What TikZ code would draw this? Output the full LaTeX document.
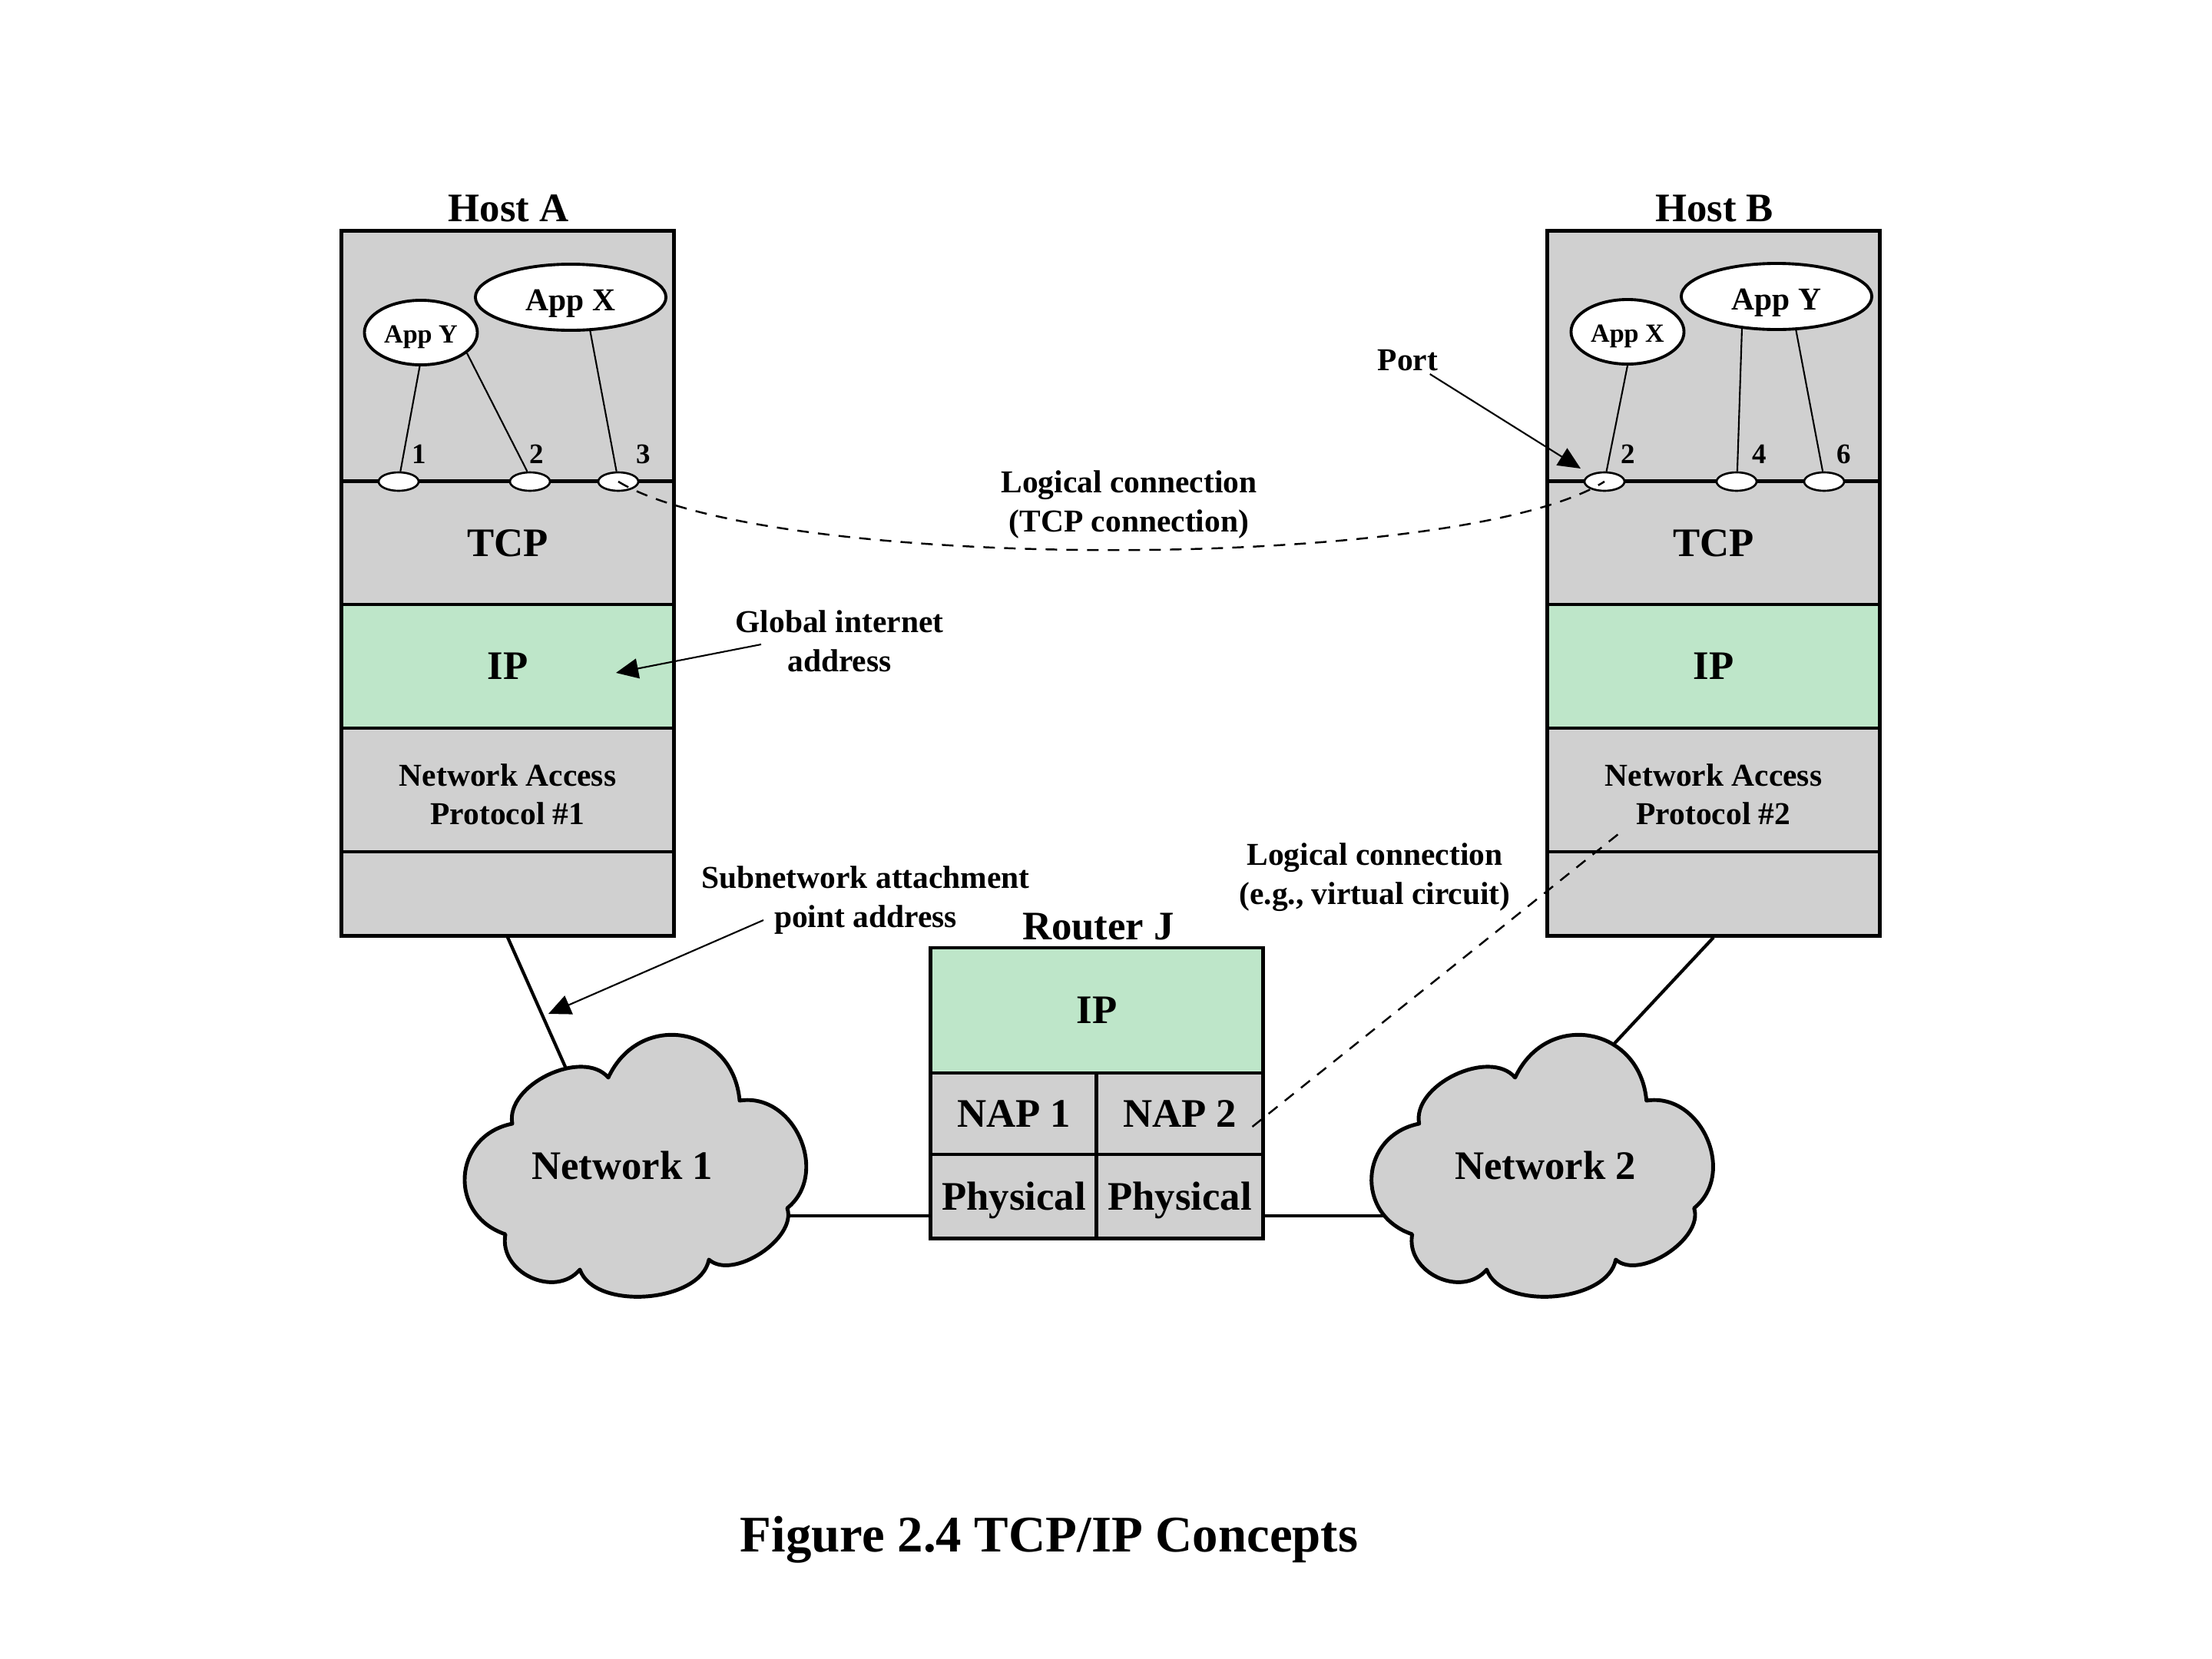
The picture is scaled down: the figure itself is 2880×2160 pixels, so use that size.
\documentclass[tikz,border=0pt]{standalone}
\usepackage{fontspec}
\setmainfont{Liberation Serif}
\usetikzlibrary{shapes.geometric,arrows.meta,calc}
\definecolor{boxgray}{RGB}{208,208,208}
\definecolor{ipgreen}{RGB}{190,230,201}
\tikzset{
 stacklayer/.style={draw, line width=1.4pt, fill=boxgray, minimum width=4.32cm, inner sep=0pt, align=center, text depth=0pt, font=\bfseries\fontsize{15}{18}\selectfont},
 iplayer/.style={stacklayer, fill=ipgreen},
 naptext/.style={font=\bfseries\fontsize{11.8}{14.2}\selectfont, align=center, inner sep=0pt},
 smalltext/.style={font=\bfseries\fontsize{11.8}{14.4}\selectfont, align=center, inner sep=1pt},
 appell/.style={ellipse, draw, line width=1.1pt, fill=white, inner sep=0pt, text depth=0pt},
 bigapp/.style={appell, minimum width=2.48cm, minimum height=0.86cm, text height=1em, font=\bfseries\fontsize{11.8}{14}\selectfont},
 smallapp/.style={appell, minimum width=1.47cm, minimum height=0.84cm, text height=0.78em, font=\bfseries\fontsize{9.7}{12}\selectfont},
 portell/.style={ellipse, draw, line width=0.75pt, fill=white, minimum width=0.52cm, minimum height=0.24cm, inner sep=0pt},
 portnum/.style={font=\bfseries\fontsize{10.5}{12}\selectfont, inner sep=0pt},
 wire/.style={line width=0.6pt},
 annot/.style={line width=0.6pt, -{Triangle[length=0.29cm,width=0.26cm]}},
 logicline/.style={line width=0.7pt, dash pattern=on 0.15cm off 0.12cm},
 netlink/.style={line width=1.2pt},
 cloudst/.style={draw, line width=1.4pt, fill=boxgray, line join=round},
 hosttitle/.style={font=\bfseries\fontsize{15}{18}\selectfont, inner sep=0pt, anchor=base},
 netlabel/.style={font=\bfseries\fontsize{15}{18}\selectfont, inner sep=0pt},
}
\newcommand\cloudpath[1]{%
\coordinate (#1a) at (792,1403);
\coordinate (#1b) at (963,1433);
\coordinate (#1c) at (1025,1573);
\coordinate (#1d) at (923,1640);
\coordinate (#1e) at (755,1653);
\coordinate (#1f) at (658,1607);
\coordinate (#1g) at (667,1463);
\draw[cloudst] (#1a)
 .. controls ($(#1a)!0.56!75:(#1b)$) and ($(#1b)!0.56!-75:(#1a)$) .. (#1b)
 .. controls ($(#1b)!0.47!75:(#1c)$) and ($(#1c)!0.47!-75:(#1b)$) .. (#1c)
 .. controls ($(#1c)!0.34!75:(#1d)$) and ($(#1d)!0.34!-75:(#1c)$) .. (#1d)
 .. controls ($(#1d)!0.34!75:(#1e)$) and ($(#1e)!0.34!-75:(#1d)$) .. (#1e)
 .. controls ($(#1e)!0.47!75:(#1f)$) and ($(#1f)!0.47!-75:(#1e)$) .. (#1f)
 .. controls ($(#1f)!0.55!75:(#1g)$) and ($(#1g)!0.55!-75:(#1f)$) .. (#1g)
 .. controls ($(#1g)!0.37!75:(#1a)$) and ($(#1a)!0.37!-75:(#1g)$) .. (#1a) -- cycle;}
\begin{document}
\begin{tikzpicture}[x=0.01cm, y=-0.01cm]
\fill[white] (0,0) rectangle (2880,2160);
\useasboundingbox (0,0) rectangle (2880,2160);

% ---------- Host A ----------
\node[hosttitle] (hAtitle) at (662,288) {Host A};
\node[stacklayer, minimum height=3.26cm] (hAapp) at (661,464) {};
\node[stacklayer, minimum height=1.60cm] (hAtcp) at (661,707) {TCP};
\node[iplayer, minimum height=1.61cm] (hAip) at (661,867.5) {IP};
\node[stacklayer, minimum height=1.61cm] (hAnap) at (661,1028.5) {};
\node[naptext] (hAnapT) at (661,1034) {Network Access\\Protocol \#1};
\node[stacklayer, minimum height=1.09cm] (hAbot) at (661,1163.5) {};

\node[smallapp] (aYA) at (548,433) {App Y};
\node[bigapp] (aXA) at (743,387) {App X};
\node[portell] (p1A) at (519,627) {};
\node[portell] (p2A) at (690,627) {};
\node[portell] (p3A) at (805,627) {};
\node[portnum] (n1A) at (546,591) {1};
\node[portnum] (n2A) at (699,591) {2};
\node[portnum] (n3A) at (838,591) {3};
\draw[wire] (aYA.-92) -- (p1A.80);
\draw[wire] (aYA.-24) -- (p2A.105);
\draw[wire] (aXA.-60) -- (p3A.100);

% ---------- Host B ----------
\node[hosttitle] (hBtitle) at (2232,288) {Host B};
\node[stacklayer, minimum height=3.26cm] (hBapp) at (2231,464) {};
\node[stacklayer, minimum height=1.60cm] (hBtcp) at (2231,707) {TCP};
\node[iplayer, minimum height=1.61cm] (hBip) at (2231,867.5) {IP};
\node[stacklayer, minimum height=1.61cm] (hBnap) at (2231,1028.5) {};
\node[naptext] (hBnapT) at (2231,1034) {Network Access\\Protocol \#2};
\node[stacklayer, minimum height=1.09cm] (hBbot) at (2231,1163.5) {};

\node[smallapp] (aXB) at (2119,432) {App X};
\node[bigapp] (aYB) at (2313,386) {App Y};
\node[portell] (p2B) at (2089,627) {};
\node[portell] (p4B) at (2261,627) {};
\node[portell] (p6B) at (2375,627) {};
\node[portnum] (n2B) at (2120,591) {2};
\node[portnum] (n4B) at (2291,591) {4};
\node[portnum] (n6B) at (2401,591) {6};
\draw[wire] (aXB.-90) -- (p2B.79);
\draw[wire] (aYB.-137) -- (p4B.86);
\draw[wire] (aYB.-60) -- (p6B.98);

% ---------- Router J ----------
\node[hosttitle] (rtitle) at (1430,1223) {Router J};
\node[iplayer, minimum height=1.63cm] (rIP) at (1428,1315.5) {IP};
\node[stacklayer, minimum width=2.16cm, minimum height=1.06cm] (rNap1) at (1320,1450) {NAP 1};
\node[stacklayer, minimum width=2.16cm, minimum height=1.06cm] (rNap2) at (1536,1450) {NAP 2};
\node[stacklayer, minimum width=2.16cm, minimum height=1.09cm] (rPhy1) at (1320,1557.5) {Physical};
\node[stacklayer, minimum width=2.16cm, minimum height=1.09cm] (rPhy2) at (1536,1557.5) {Physical};

% ---------- links to networks ----------
\coordinate (nAtop) at (740,1398);
\coordinate (nAright) at (1015,1583);
\coordinate (nBtop) at (2095,1366);
\coordinate (nBleft) at (1812,1583);
\draw[netlink] (hAbot.south) -- (nAtop);
\draw[netlink] (hBbot.south) -- (nBtop);
\draw[netlink] (nAright) -- (nAright -| rPhy1.west);
\draw[netlink] (rPhy2.east |- nBleft) -- (nBleft);

% ---------- clouds ----------
\cloudpath{nA}
\begin{scope}[xshift=11.8cm]
\cloudpath{nB}
\end{scope}
\node[netlabel] (net1) at (810,1517) {Network 1};
\node[netlabel] (net2) at (2012,1517) {Network 2};

% ---------- logical connections ----------
\draw[logicline] (p3A.center) .. controls (1000,746) and (1900,746) .. (p2B.center);
\node[smalltext] (tcpconn) at (1470,657) {Logical connection\\(TCP connection)};

\coordinate (vcA) at ($(rNap2.east)+(-16,17)$);
\coordinate (vcB) at ($(hBnap.center)+(-124,57.5)$);
\draw[logicline] (vcA) -- (vcB);
\node[smalltext] (vclbl) at (1790,1142) {Logical connection\\(e.g., virtual circuit)};

% ---------- annotations ----------
\node[smalltext] (portlbl) at (1833,469) {Port};
\coordinate (portTip) at ($(p2B.center)+(-31,-17)$);
\draw[annot] (portlbl) -- (portTip);

\node[smalltext] (globlbl) at (1093,835) {Global internet\\address};
\coordinate (globFrom) at ($(globlbl.center)+(-102,4)$);
\coordinate (ipTipA) at ($(hAip.center)+(141,8.5)$);
\draw[annot] (globFrom) -- (ipTipA);

\node[smalltext] (sublbl) at (1127,1172) {Subnetwork attachment\\point address};
\coordinate (subFrom) at ($(sublbl.center)+(-133,26)$);
\coordinate (subTip) at (714,1320);
\draw[annot] (subFrom) -- (subTip);

% ---------- caption ----------
\node[font=\bfseries\fontsize{19}{23}\selectfont, anchor=base, inner sep=0pt] (caption) at (1366,2020) {Figure 2.4 TCP/IP Concepts};
\end{tikzpicture}
\end{document}
